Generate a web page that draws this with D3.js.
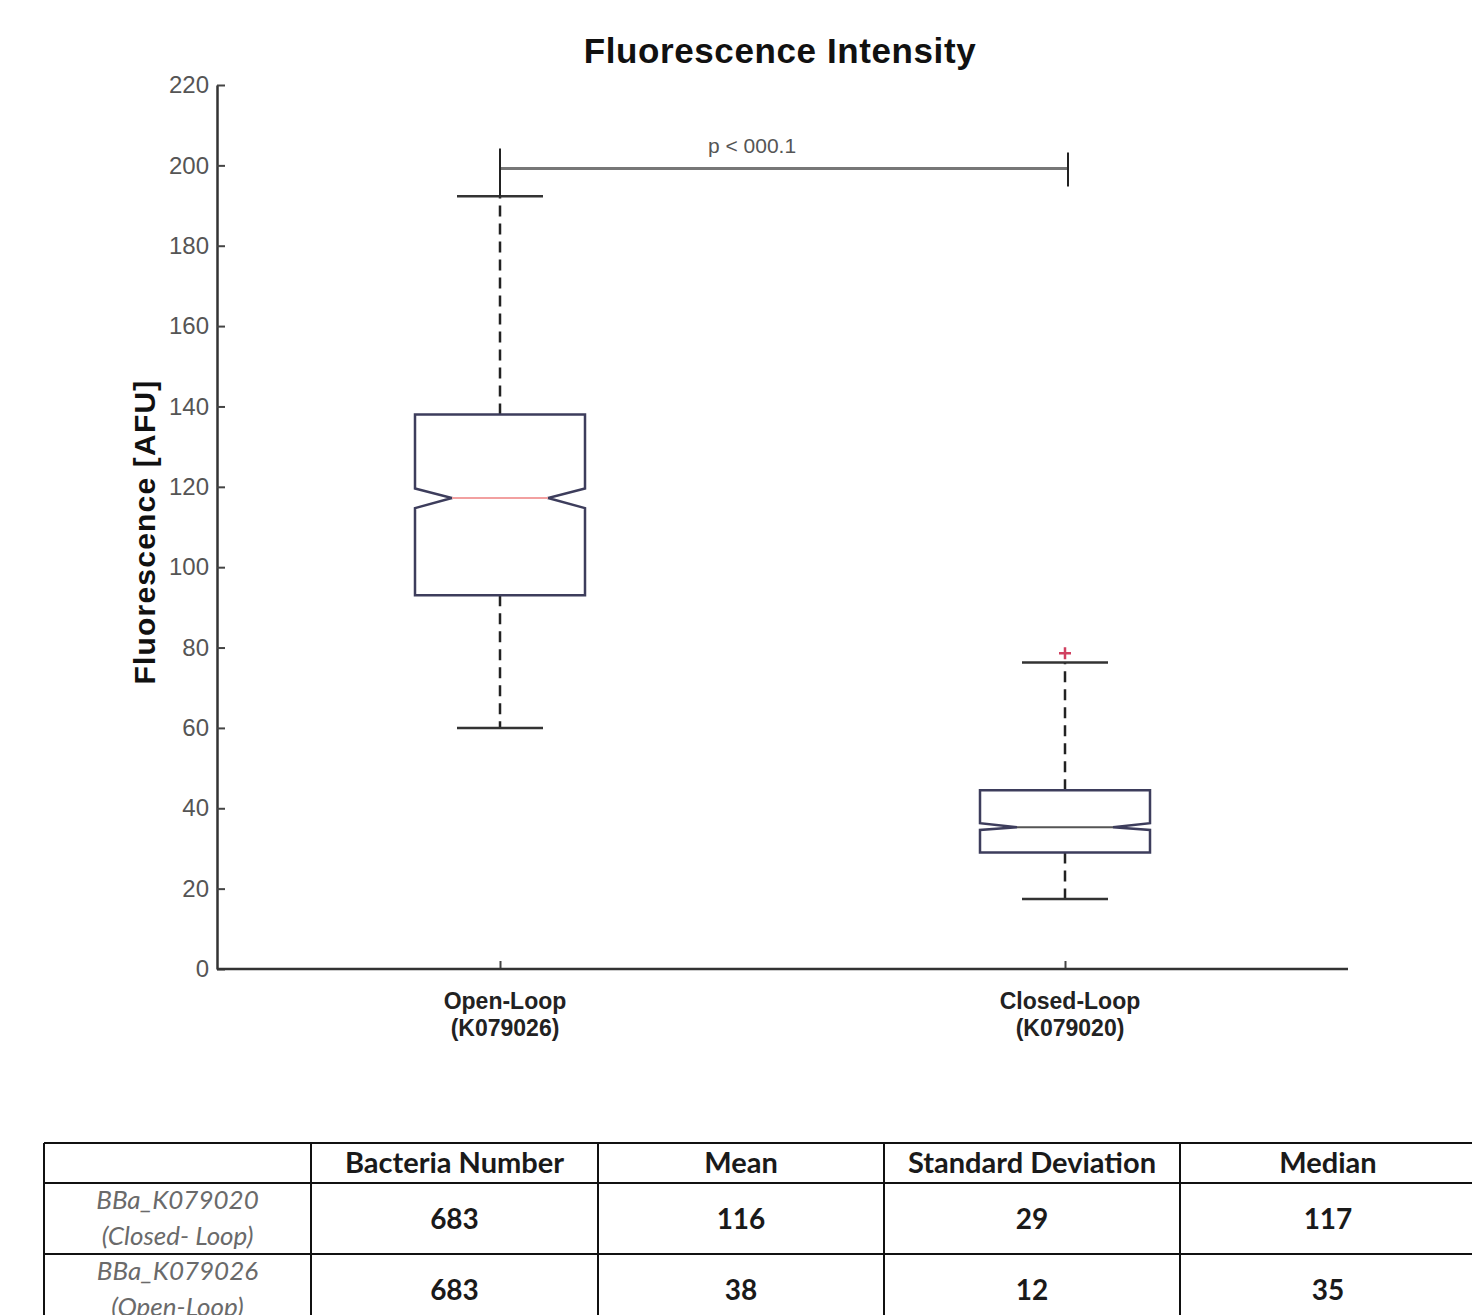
<!DOCTYPE html>
<html><head><meta charset="utf-8">
<script src="https://cdn.jsdelivr.net/npm/d3@7"></script>
<style>body{margin:0;background:#fff}svg{display:block}</style>
</head><body>
<script>
// ---- data ----
const categories = ["Open-Loop", "Closed-Loop"];
const categoryIds = ["(K079026)", "(K079020)"];
const whiskerLow = [60, 17.4];
const q1 = [93, 29];
const medians = [117.2, 35.3];
const q3 = [138, 44.5];
const whiskerHigh = [192.3, 76.3];
const notchLow = [114.7, 34.6];
const notchHigh = [119.6, 36.3];
const outliers = [[], [78.6]];
const yTicks = [0, 20, 40, 60, 80, 100, 120, 140, 160, 180, 200, 220];
const sigLevel = 199.2;
const sigLabel = "p < 000.1";
const tableHeaders = ["", "Bacteria Number", "Mean", "Standard Deviation", "Median"];
const rowNames = [["BBa_K079020", "(Closed- Loop)"], ["BBa_K079026", "(Open-Loop)"]];
const bacteriaNumber = [683, 683];
const means = [116, 38];
const stdDevs = [29, 12];
const tableMedians = [117, 35];

// ---- layout ----
const W = 1472, H = 1315;
const svg = d3.select("body").append("svg").attr("width", W).attr("height", H);
const y = d3.scaleLinear().domain([0, 220]).range([969, 85]);
const x = d3.scalePoint().domain(categories).range([500, 1065]);
const axisLeftX = 217, axisRightX = 1348;
const boxHalf = 85, notchInset = 37, capHalf = 43;

// title
svg.append("text").attr("x", 780).attr("y", 63).attr("text-anchor", "middle")
  .attr("font-family", "Liberation Sans, Arial, sans-serif").attr("font-weight", "bold")
  .attr("font-size", 35).attr("letter-spacing", 0.6).attr("fill", "#111").text("Fluorescence Intensity");

// y label
svg.append("text").attr("transform", "translate(155,532) rotate(-90)").attr("text-anchor", "middle")
  .attr("font-family", "Liberation Sans, Arial, sans-serif").attr("font-weight", "bold")
  .attr("font-size", 30).attr("letter-spacing", 1.2).attr("fill", "#111").text("Fluorescence [AFU]");

// y axis
const yAxis = d3.axisLeft(y).tickValues(yTicks).tickSizeInner(-8).tickSizeOuter(0).tickPadding(8);
const gy = svg.append("g").attr("transform", `translate(${axisLeftX},0)`).call(yAxis);
gy.select(".domain").attr("stroke", "#333").attr("stroke-width", 2.5);
gy.selectAll(".tick line").attr("stroke", "#444").attr("stroke-width", 2);
gy.selectAll(".tick text").attr("font-family", "Liberation Sans, Arial, sans-serif")
  .attr("font-size", 24).attr("fill", "#555");

// x axis
const xAxis = d3.axisBottom(x).tickSizeInner(-8).tickSizeOuter(0).tickFormat(() => "");
const gx = svg.append("g").attr("transform", `translate(0,${y(0)})`).call(xAxis);
gx.select(".domain").remove();
svg.append("line").attr("x1", axisLeftX).attr("x2", axisRightX).attr("y1", y(0)).attr("y2", y(0))
  .attr("stroke", "#333").attr("stroke-width", 2.5);
gx.selectAll(".tick line").attr("stroke", "#444").attr("stroke-width", 2);
categories.forEach((c, i) => {
  const t = svg.append("text").attr("x", x(c) + 5).attr("text-anchor", "middle")
    .attr("font-family", "Liberation Sans Narrow, Liberation Sans, Arial, sans-serif").attr("font-weight", "bold")
    .attr("font-size", 23).attr("fill", "#222");
  t.append("tspan").attr("x", x(c) + 5).attr("y", 1009).text(c);
  t.append("tspan").attr("x", x(c) + 5).attr("y", 1036).text(categoryIds[i]);
});

// boxes
categories.forEach((c, i) => {
  const cx = x(c);
  const g = svg.append("g");
  [[q3[i], whiskerHigh[i]], [q1[i], whiskerLow[i]]].forEach(([a, b]) => {
    g.append("line").attr("x1", cx).attr("x2", cx).attr("y1", y(a)).attr("y2", y(b))
      .attr("stroke", "#222").attr("stroke-width", 2.5).attr("stroke-dasharray", "11,7");
    g.append("line").attr("x1", cx - capHalf).attr("x2", cx + capHalf).attr("y1", y(b)).attr("y2", y(b))
      .attr("stroke", "#333").attr("stroke-width", 2.5);
  });
  const L = cx - boxHalf, R = cx + boxHalf;
  const pts = [
    [L, y(q3[i])], [R, y(q3[i])], [R, y(notchHigh[i])], [R - notchInset, y(medians[i])],
    [R, y(notchLow[i])], [R, y(q1[i])], [L, y(q1[i])], [L, y(notchLow[i])],
    [L + notchInset, y(medians[i])], [L, y(notchHigh[i])]
  ];
  g.append("path").attr("d", d3.line()(pts) + "Z").attr("fill", "none")
    .attr("stroke", "#3d3d5c").attr("stroke-width", 2.5);
  g.append("line").attr("x1", L + notchInset).attr("x2", R - notchInset)
    .attr("y1", y(medians[i])).attr("y2", y(medians[i]))
    .attr("stroke", i === 0 ? "#f2a0a0" : "#555").attr("stroke-width", 2);
  outliers[i].forEach(v => {
    g.append("path").attr("d", `M${cx - 6},${y(v)}H${cx + 6}M${cx},${y(v) - 6}V${y(v) + 6}`)
      .attr("stroke", "#d04060").attr("stroke-width", 2.5);
  });
});

// significance bar
const x0 = x(categories[0]), x1 = x(categories[1]) + 3;
svg.append("line").attr("x1", x0).attr("x2", x1).attr("y1", y(sigLevel)).attr("y2", y(sigLevel))
  .attr("stroke", "#777").attr("stroke-width", 3);
svg.append("line").attr("x1", x0).attr("x2", x0).attr("y1", y(sigLevel) - 20).attr("y2", y(whiskerHigh[0]))
  .attr("stroke", "#222").attr("stroke-width", 2);
svg.append("line").attr("x1", x1).attr("x2", x1).attr("y1", y(sigLevel) - 16).attr("y2", y(sigLevel) + 18)
  .attr("stroke", "#222").attr("stroke-width", 2);
svg.append("text").attr("x", 752).attr("y", 153).attr("text-anchor", "middle")
  .attr("font-family", "Liberation Sans, Arial, sans-serif").attr("font-size", 21).attr("fill", "#555")
  .text(sigLabel);

// ---- table ----
const colEdges = [44, 311, 598, 884, 1180, 1476];
const rowEdges = [1143, 1183, 1254, 1325];
const tg = svg.append("g");
rowEdges.forEach(ry => tg.append("line").attr("x1", colEdges[0]).attr("x2", colEdges[5])
  .attr("y1", ry).attr("y2", ry).attr("stroke", "#111").attr("stroke-width", 2));
colEdges.forEach(cxe => tg.append("line").attr("x1", cxe).attr("x2", cxe)
  .attr("y1", rowEdges[0]).attr("y2", rowEdges[3]).attr("stroke", "#111").attr("stroke-width", 2));
const colCenter = k => (colEdges[k] + colEdges[k + 1]) / 2;
const tf = "Lato, Carlito, Calibri, sans-serif";
tableHeaders.forEach((h, k) => {
  tg.append("text").attr("x", colCenter(k)).attr("y", 1173).attr("text-anchor", "middle")
    .attr("font-family", tf).attr("font-weight", "bold").attr("font-size", 29).attr("fill", "#1a1a1a").text(h);
});
const rowValues = [bacteriaNumber, means, stdDevs, tableMedians];
rowNames.forEach((rn, r) => {
  const top = rowEdges[r + 1], bot = rowEdges[r + 2];
  const mid = (top + bot) / 2;
  tg.append("text").attr("x", colCenter(0)).attr("y", top + 26).attr("text-anchor", "middle")
    .attr("font-family", tf).attr("font-style", "italic").attr("font-size", 26).attr("fill", "#6a6a6a").text(rn[0]);
  tg.append("text").attr("x", colCenter(0)).attr("y", top + 62).attr("text-anchor", "middle")
    .attr("font-family", tf).attr("font-style", "italic").attr("font-size", 26).attr("fill", "#6a6a6a").text(rn[1]);
  rowValues.forEach((vals, k) => {
    tg.append("text").attr("x", colCenter(k + 1)).attr("y", mid + 10).attr("text-anchor", "middle")
      .attr("font-family", tf).attr("font-weight", "bold").attr("font-size", 28).attr("fill", "#1a1a1a")
      .text(vals[r]);
  });
});
</script>
</body></html>
